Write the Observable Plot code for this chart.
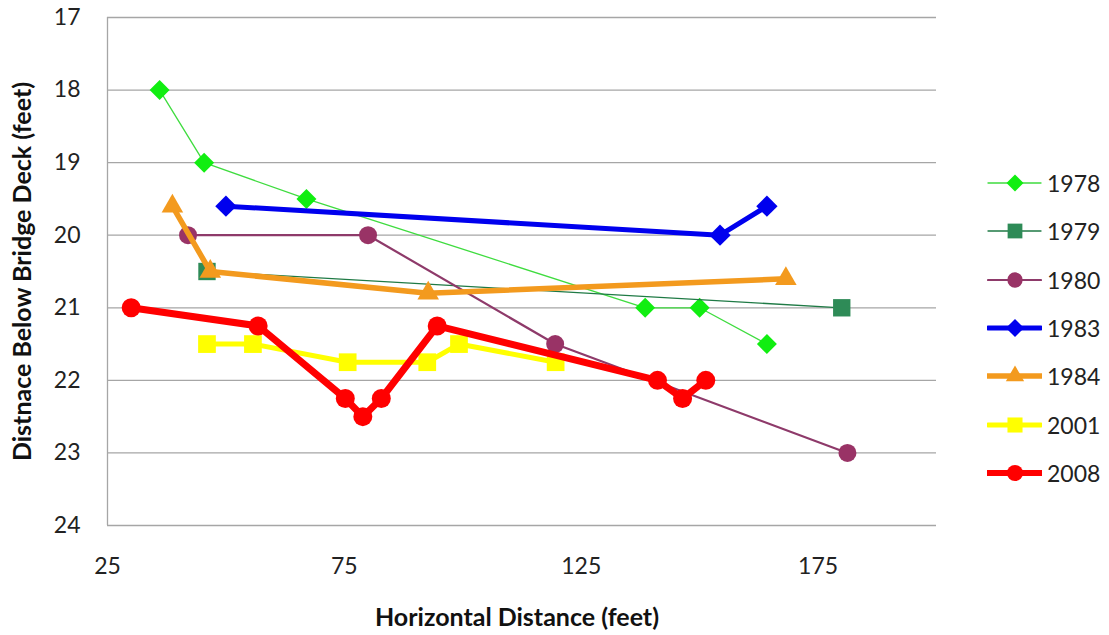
<!DOCTYPE html>
<html>
<head>
<meta charset="utf-8">
<script src="https://cdn.jsdelivr.net/npm/d3@7"></script>
<script src="https://cdn.jsdelivr.net/npm/@observablehq/plot@0.6"></script>
<style>
  html, body { margin: 0; padding: 0; background: #fff; }
  #wrap { position: relative; width: 1109px; height: 635px; font-family: Lato, "Open Sans", sans-serif; }
  #legend { position: absolute; left: 987px; top: 0; }
  .row { position: absolute; left: 0; height: 24px; display: flex; align-items: center; white-space: nowrap; }
  .row span { font-size: 23px; color: #222; margin-left: 5px; }
</style>
</head>
<body>
<div id="wrap"><div id="legend"></div></div>
<script>
// ---- data ----
const years = ["1978", "1979", "1980", "1983", "1984", "2001", "2008"];
const x1978 = [36, 45.4, 67, 138.5, 150, 164.2];
const y1978 = [18, 19, 19.5, 21, 21, 21.5];
const x1979 = [46, 180];
const y1979 = [20.5, 21];
const x1980 = [42, 80, 119.5, 181.2];
const y1980 = [20, 20, 21.5, 23];
const x1983 = [50, 154.3, 164.2];
const y1983 = [19.6, 20, 19.6];
const x1984 = [38.7, 46.7, 92.7, 168.2];
const y1984 = [19.6, 20.5, 20.8, 20.6];
const x2001 = [46, 55.7, 75.7, 92.5, 99.2, 119.6];
const y2001 = [21.5, 21.5, 21.75, 21.75, 21.5, 21.75];
const x2008 = [30, 56.8, 75.2, 78.9, 82.8, 94.6, 141.1, 146.4, 151.3];
const y2008 = [21, 21.25, 22.25, 22.5, 22.25, 21.25, 22, 22.25, 22];
const xTicks = [25, 75, 125, 175];
const yTicks = [17, 18, 19, 20, 21, 22, 23, 24];
const xTitle = "Horizontal Distance (feet)";
const yTitle = "Distnace Below Bridge Deck (feet)";

const seriesX = [x1978, x1979, x1980, x1983, x1984, x2001, x2008];
const seriesY = [y1978, y1979, y1980, y1983, y1984, y2001, y2008];

// ---- styles ----
const styles = {
  "1978": {line: "#3fdc3f", fill: "#11ee11", sw: 1.3, symbol: "diamond2", r: 9, d3s: d3.symbolDiamond2},
  "1979": {line: "#1f7a45", fill: "#2e8b57", sw: 1.3, symbol: "square", r: 9.8, d3s: d3.symbolSquare},
  "1980": {line: "#8e3a6a", fill: "#993366", sw: 2.2, symbol: "circle", r: 9, d3s: d3.symbolCircle},
  "1983": {line: "#0000ee", fill: "#0000ee", sw: 5, symbol: "diamond2", r: 9.6, d3s: d3.symbolDiamond2},
  "1984": {line: "#f39a1e", fill: "#f39a1e", sw: 5.5, symbol: "triangle", r: 8, d3s: d3.symbolTriangle},
  "2001": {line: "#ffff00", fill: "#ffff00", sw: 5, symbol: "square", r: 10, d3s: d3.symbolSquare},
  "2008": {line: "#ff0000", fill: "#ff0000", sw: 7, symbol: "circle", r: 9.5, d3s: d3.symbolCircle}
};

const table = years.flatMap((yr, i) => seriesX[i].map((x, j) => ({year: yr, x, y: seriesY[i][j]})));

const seriesMarks = years.flatMap((yr) => {
  const s = styles[yr];
  const data = table.filter(d => d.year === yr);
  return [
    Plot.line(data, {x: "x", y: "y", stroke: s.line, strokeWidth: s.sw, strokeLinejoin: "round", strokeLinecap: "round"}),
    Plot.dot(data, {x: "x", y: "y", symbol: s.symbol, r: s.r, fill: s.fill, stroke: "none"})
  ];
});

const chart = Plot.plot({
  width: 1109,
  height: 635,
  marginLeft: 107,
  marginRight: 173,
  marginTop: 17,
  marginBottom: 110,
  x: {domain: [25, 200]},
  y: {domain: [17, 24], reverse: true},
  style: {fontFamily: "Lato, 'Open Sans', sans-serif", fontSize: "23px", color: "#222", background: "#fff", overflow: "visible"},
  marks: [
    Plot.ruleY(yTicks, {stroke: "#a6a6a6", strokeWidth: 1.3}),
    Plot.ruleX([25], {stroke: "#a6a6a6", strokeWidth: 1.3}),
    Plot.axisY(yTicks, {tickSize: 0, tickPadding: 27, label: null, fontSize: 23, tickFormat: d3.format("d")}),
    Plot.axisX(xTicks, {tickSize: 0, tickPadding: 32, label: null, fontSize: 23, tickFormat: d3.format("d")}),
    ...seriesMarks,
    Plot.text([xTitle], {text: d => d, frameAnchor: "bottom", dx: -5, dy: 100, fontWeight: "bold", fontSize: 25, fill: "#111"}),
    Plot.text([yTitle], {text: d => d, frameAnchor: "left", textAnchor: "middle", rotate: -90, dx: -85, fontWeight: "bold", fontSize: 25, fill: "#111"})
  ]
});
document.getElementById("wrap").prepend(chart);

// ---- legend ----
const legend = d3.select("#legend");
years.forEach((yr, i) => {
  const s = styles[yr];
  const row = legend.append("div").attr("class", "row").style("top", (183 + 48.3 * i - 12) + "px");
  const svg = row.append("svg").attr("width", 55).attr("height", 24);
  svg.append("line").attr("x1", 1).attr("x2", 54).attr("y1", 12).attr("y2", 12)
    .attr("stroke", s.line).attr("stroke-width", Math.min(s.sw, 6)).attr("stroke-linecap", "round");
  const size = Math.PI * (s.r * 0.85) ** 2;
  svg.append("path").attr("transform", "translate(28,12)")
    .attr("d", d3.symbol().type(s.d3s).size(size)()).attr("fill", s.fill);
  row.append("span").text(yr);
});
</script>
</body>
</html>
